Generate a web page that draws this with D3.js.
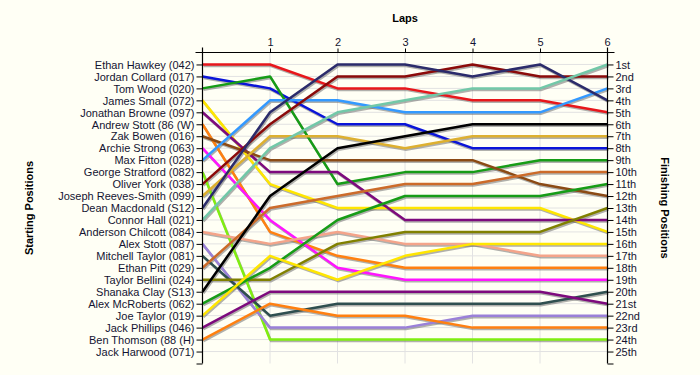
<!DOCTYPE html>
<html>
<head>
<meta charset="utf-8">
<script src="https://cdn.jsdelivr.net/npm/d3@7"></script>
<style>
  body { margin: 0; background: #fffff5; }
  svg { display: block; }
  .lbl { font-family: "Liberation Sans", Arial, sans-serif; font-size: 11px; fill: #141432; }
  .title { font-family: "Liberation Sans", Arial, sans-serif; font-size: 11px; font-weight: bold; fill: #000; }
</style>
</head>
<body>
<div id="chart"></div>
<script>
/************************** DATA **************************/

var laps = [0, 1, 2, 3, 4, 5, 6];
var lapLabels = ["", "1", "2", "3", "4", "5", "6"];

// starting order (grid position 1..25)
var drivers = [
  "Ethan Hawkey (042)", "Jordan Collard (017)", "Tom Wood (020)", "James Small (072)",
  "Jonathan Browne (097)", "Andrew Stott (86 (W)", "Zak Bowen (016)", "Archie Strong (063)",
  "Max Fitton (028)", "George Stratford (082)", "Oliver York (038)", "Joseph Reeves-Smith (099)",
  "Dean Macdonald (S12)", "Connor Hall (021)", "Anderson Chilcott (084)", "Alex Stott (087)",
  "Mitchell Taylor (081)", "Ethan Pitt (029)", "Taylor Bellini (024)", "Shanaka Clay (S13)",
  "Alex McRoberts (062)", "Joe Taylor (019)", "Jack Phillips (046)", "Ben Thomson (88 (H)",
  "Jack Harwood (071)"
];

// position at end of each lap, lap 0 = grid
var positions = [
  [1, 1, 3, 3, 4, 4, 5],
  [2, 3, 6, 6, 8, 8, 8],
  [3, 2, 11, 10, 10, 9, 9],
  [4, 11, 13, 13, 13, 13, 15],
  [5, 10, 10, 14, 14, 14, 14],
  [6, 15, 17, 18, 18, 18, 18],
  [7, 9, 9, 9, 9, 11, 12],
  [8, 14, 18, 19, 19, 19, 19],
  [9, 4, 4, 5, 5, 5, 3],
  [10, 24, 24, 24, 24, 24, 24],
  [11, 6, 2, 2, 1, 2, 2],
  [12, 7, 7, 8, 7, 7, 7],
  [13, 5, 1, 1, 2, 1, 4],
  [14, 8, 5, 4, 3, 3, 1],
  [15, 16, 15, 16, 16, 17, 17],
  [16, 23, 23, 23, 22, 22, 22],
  [17, 22, 21, 21, 21, 21, 20],
  [18, 13, 12, 11, 11, 10, 10],
  [19, 19, 16, 15, 15, 15, 13],
  [20, 12, 8, 7, 6, 6, 6],
  [21, 18, 14, 12, 12, 12, 11],
  [22, 17, 19, 17, 16, 16, 16],
  [23, 20, 20, 20, 20, 20, 21],
  [24, 21, 22, 22, 23, 23, 23],
  [] // Jack Harwood - no laps
];

var finishLabels = ["1st", "2nd", "3rd", "4th", "5th", "6th", "7th", "8th", "9th", "10th",
  "11th", "12th", "13th", "14th", "15th", "16th", "17th", "18th", "19th", "20th",
  "21st", "22nd", "23rd", "24th", "25th"];

var colors = ["#e8161b", "#0a14d8", "#169c16", "#ffe600", "#7d0a7d", "#ff8010",
  "#8b4a14", "#ff14ff", "#3399ff", "#80ee10", "#8b0a0a", "#ddb030",
  "#2b2b6b", "#72c8a8", "#f4a48a", "#9a80d8", "#2f4f4f", "#cc6b2a",
  "#808000", "#000000", "#169c16", "#ffe600", "#7d0a7d", "#ff8010", "#999999"];

/************************** RENDER **************************/

var width = 700, height = 375;

var x = d3.scaleLinear().domain([0, 6]).range([202.5, 607.5]);
var y = d3.scaleLinear().domain([0, 26]).range([52.5, 363.5]);

var svg = d3.select("#chart").append("svg")
    .attr("width", width)
    .attr("height", height);

svg.append("rect")
    .attr("width", width).attr("height", height)
    .attr("fill", "#fffff5");

var rows = d3.range(1, 26);

// grid
svg.append("g").selectAll("line")
    .data(rows)
    .enter().append("line")
      .attr("x1", x(0)).attr("x2", x(6))
      .attr("y1", function(d) { return y(d); })
      .attr("y2", function(d) { return y(d); })
      .attr("stroke", "#e2e2e2");

svg.append("g").selectAll("line")
    .data(laps.slice(1, 6))
    .enter().append("line")
      .attr("x1", function(d) { return x(d); })
      .attr("x2", function(d) { return x(d); })
      .attr("y1", y(0)).attr("y2", y(26))
      .attr("stroke", "#e2e2e2");

// lines
var line = d3.line()
    .x(function(d, i) { return x(laps[i]); })
    .y(function(d) { return y(d); });

var series = positions.map(function(p, i) { return { name: drivers[i], pos: p, color: colors[i] }; })
    .filter(function(d) { return d.pos.length; });

var gLines = svg.append("g");

gLines.selectAll(".shadow")
    .data(series)
    .enter().append("path")
      .attr("class", "shadow")
      .attr("d", function(d) { return line(d.pos); })
      .attr("transform", "translate(1,1.5)")
      .attr("fill", "none")
      .attr("stroke", "#707070")
      .attr("stroke-opacity", 0.55)
      .attr("stroke-width", 2.5);

gLines.selectAll(".race")
    .data(series)
    .enter().append("path")
      .attr("class", "race")
      .attr("d", function(d) { return line(d.pos); })
      .attr("fill", "none")
      .attr("stroke", function(d) { return d.color; })
      .attr("stroke-width", 2.5)
      .attr("stroke-linejoin", "round");

// axes
var leftAxis = d3.axisLeft(y)
    .tickValues(d3.range(1, 27))
    .tickSize(6)
    .tickFormat(function(d) { return drivers[d - 1] || ""; });

var rightAxis = d3.axisRight(y)
    .tickValues(d3.range(1, 27))
    .tickSize(6)
    .tickFormat(function(d) { return finishLabels[d - 1] || ""; });

var lapAxis = d3.axisTop(x)
    .tickValues(laps.slice(1, 6))
    .tickSize(4)
    .tickFormat(function(d) { return lapLabels[d]; });

function styleAxis(g) {
  g.select(".domain").remove();
  g.selectAll("line").attr("stroke", "#000");
  g.selectAll("text").attr("class", "lbl");
}

svg.append("g")
    .attr("transform", "translate(" + x(0) + ",0)")
    .call(leftAxis).call(styleAxis)
    .selectAll("text").attr("x", -8).attr("dy", "0.34em");

svg.append("g")
    .attr("transform", "translate(" + x(6) + ",0)")
    .call(rightAxis).call(styleAxis)
    .selectAll("text").attr("x", 8).attr("dy", "0.34em");

svg.append("g")
    .attr("transform", "translate(0," + y(0) + ")")
    .call(lapAxis).call(styleAxis)
    .selectAll("text").attr("y", -7);

// lap 6 label on top of right axis
svg.append("text")
    .attr("class", "lbl")
    .attr("x", x(6)).attr("y", y(0) - 7)
    .attr("text-anchor", "middle")
    .text(lapLabels[6]);

// axis lines
svg.append("line")
    .attr("x1", x(0) - 7).attr("x2", x(6) + 7)
    .attr("y1", y(0)).attr("y2", y(0))
    .attr("stroke", "#000").attr("stroke-width", 1.2);

svg.append("line")
    .attr("x1", x(0)).attr("x2", x(0))
    .attr("y1", y(0) - 5).attr("y2", y(26))
    .attr("stroke", "#000").attr("stroke-width", 1.2);

svg.append("line")
    .attr("x1", x(6)).attr("x2", x(6))
    .attr("y1", y(0) - 5).attr("y2", y(26))
    .attr("stroke", "#000").attr("stroke-width", 1.2);

// titles
svg.append("text")
    .attr("class", "title")
    .attr("x", x(3)).attr("y", 22)
    .attr("text-anchor", "middle")
    .text("Laps");

svg.append("text")
    .attr("class", "title")
    .attr("transform", "translate(33," + y(13) + ") rotate(-90)")
    .attr("text-anchor", "middle")
    .text("Starting Positions");

svg.append("text")
    .attr("class", "title")
    .attr("transform", "translate(661," + y(13) + ") rotate(90)")
    .attr("text-anchor", "middle")
    .text("Finishing Positions");
</script>
</body>
</html>
